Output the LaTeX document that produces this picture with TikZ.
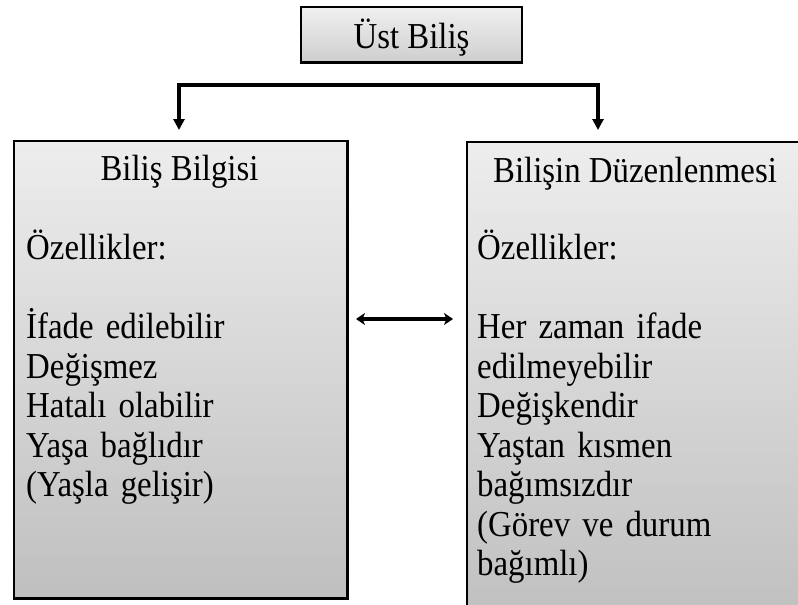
\documentclass[tikz,border=0pt]{standalone}
\usepackage{fontspec}
\setmainfont{Liberation Serif}[FakeStretch=0.9]
\usetikzlibrary{arrows.meta}
\begin{document}
\begin{tikzpicture}[x=1pt,y=-1pt,
  txt/.style={inner sep=0pt, font=\fontsize{36.5}{39.5}\selectfont},
  panel/.style={draw=black, line width=1.6pt, inner sep=0pt,
    anchor=north west, top color=#1, bottom color=black!25},
  panel/.default={black!7},
  headbox/.style={draw=black, line width=2pt, inner sep=0pt,
    minimum width=221pt, minimum height=55pt,
    top color=black!6, bottom color=black!19},
  bracket/.style={line width=3.2pt, arrows={Triangle[width=11pt,length=11pt]-Triangle[width=11pt,length=11pt]}},
  link/.style={line width=4pt, arrows={Stealth[width=12pt,length=9pt,inset=2.5pt]-Stealth[width=12pt,length=9pt,inset=2.5pt]}}]
\clip (0,0) rectangle (798,605);
\fill[white] (0,0) rectangle (798,605);

% heading box
\node[headbox] (top) at (411.5,34.5) {};
\draw[line width=1.2pt] ([yshift=-0.8pt]top.south west) -- ([yshift=-0.8pt]top.south east);
\node[txt, anchor=base] (toptext) at (411.5,48) {Üst Biliş};

% left panel
\node[panel, minimum width=333pt, minimum height=457pt] (know) at (13,140) {};
\draw[line width=1.2pt] ([xshift=1.1pt]know.north east) -- ([xshift=1.1pt,yshift=-1.1pt]know.south east)
  -- ([yshift=-1.1pt]know.south west);
\node[txt, anchor=base] (knowhead) at (179.5,180) {Biliş Bilgisi};
\node[txt, anchor=base west, text width=310pt, align=left] (knowlist) at (26,259.5)
  {Özellikler:\\[39.5pt]İfade edilebilir\\Değişmez\\Hatalı olabilir\\Yaşa bağlıdır\\(Yaşla gelişir)};

% right panel
\node[panel, minimum width=340pt, minimum height=480pt] (reg) at (466,141) {};
\node[txt, anchor=base] (reghead) at (635,182) {Bilişin Düzenlenmesi};
\node[txt, anchor=base west, text width=320pt, align=left] (reglist) at (477,259.5)
  {Özellikler:\\[39.5pt]Her zaman ifade\\edilmeyebilir\\Değişkendir\\Yaştan kısmen\\bağımsızdır\\(Görev ve durum\\bağımlı)};

% split connector from the heading
\coordinate (kin) at (179,130);
\coordinate (rin) at (598,130);
\coordinate (bar) at (389,85);
\draw[bracket] (kin) |- (bar) -| (rin);

% two-way link between the panels
\coordinate (la) at (356,319);
\coordinate (ra) at (453,319);
\draw[link] (la) -- (ra);
\end{tikzpicture}
\end{document}
